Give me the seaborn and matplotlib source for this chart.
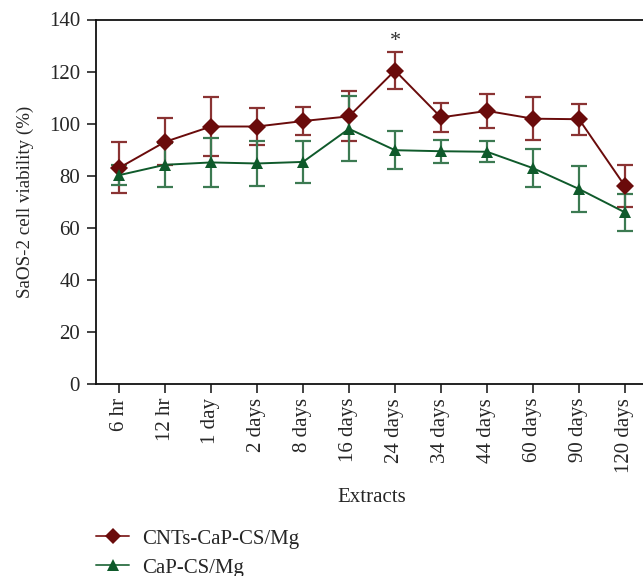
import matplotlib
matplotlib.use("Agg")
import matplotlib.pyplot as plt
import seaborn as sns
import pandas as pd
from matplotlib.lines import Line2D

categories = ["6 hr", "12 hr", "1 day", "2 days", "8 days", "16 days",
              "24 days", "34 days", "44 days", "60 days", "90 days", "120 days"]
cnts_mean = [83.0, 93.0, 98.9, 98.9, 101.0, 102.8, 120.4, 102.4, 104.9, 101.9, 101.7, 76.0]
cnts_err = [9.8, 9.0, 11.3, 7.1, 5.4, 9.6, 7.2, 5.5, 6.5, 8.2, 6.0, 8.2]
cap_mean = [80.2, 84.2, 85.1, 84.7, 85.3, 98.0, 89.8, 89.4, 89.2, 82.9, 74.9, 65.9]
cap_err = [3.8, 8.5, 9.4, 8.7, 8.2, 12.5, 7.4, 4.5, 4.0, 7.4, 8.7, 7.0]
series_names = ["CNTs-CaP-CS/Mg", "CaP-CS/Mg"]
yticks = [0, 20, 40, 60, 80, 100, 120, 140]

sns.set_style("ticks")
plt.rcParams["font.family"] = ["Liberation Serif", "DejaVu Serif"]

red = "#6a0b0b"
red_err = "#8a3333"
green = "#0f5a2b"
green_err = "#3c7a52"

df = pd.DataFrame({
    "Extracts": categories * 2,
    "x": list(range(len(categories))) * 2,
    "viability": cnts_mean + cap_mean,
    "err": cnts_err + cap_err,
    "series": [series_names[0]] * len(categories) + [series_names[1]] * len(categories),
})

fig = plt.figure(figsize=(6.43, 5.76), dpi=100)
ax = fig.add_axes([96 / 643, 1 - 384 / 576, 552 / 643, (384 - 19.5) / 576])

for name, ecol in [(series_names[0], red_err), (series_names[1], green_err)]:
    sub = df[df["series"] == name]
    ax.errorbar(sub["x"], sub["viability"], yerr=sub["err"], fmt="none",
                ecolor=ecol, elinewidth=1.6, capsize=5.5, capthick=1.6, zorder=2)

sns.lineplot(data=df, x="x", y="viability", hue="series", style="series",
             markers={series_names[0]: "D", series_names[1]: "^"},
             dashes=False, palette={series_names[0]: red, series_names[1]: green},
             markersize=9, markeredgewidth=0, linewidth=1.4, ax=ax, legend=False, zorder=3)

ax.text(6, 131.5, "*", ha="center", va="center", fontsize=16, color="#333333")

ax.set_xlim(-0.5, 11.5)
ax.set_ylim(0, 140)
ax.set_yticks(yticks)
ax.set_xticks(range(len(categories)))
ax.set_xticklabels(categories, rotation=90)
ax.tick_params(axis="both", labelsize=15, length=6.5, width=1.2, color="#222222", direction="out")
ax.tick_params(axis="y", pad=5)
for s in ax.spines.values():
    s.set_linewidth(1.3)
    s.set_color("#111111")
ax.set_xlabel("Extracts", fontsize=15, labelpad=11)
ax.set_ylabel("SaOS-2 cell viability (%)", fontsize=13.7, labelpad=11)

handles = [Line2D([], [], color=red_err, marker="D", markerfacecolor=red, markeredgewidth=0, markersize=8, linewidth=1.4),
           Line2D([], [], color=green_err, marker="^", markerfacecolor=green, markeredgewidth=0, markersize=8.5, linewidth=1.4)]
fig.legend(handles, series_names, loc="upper left", bbox_to_anchor=(96 / 643, 1 - 529 / 576),
           frameon=False, fontsize=15, handlelength=1.6, handletextpad=0.6, labelspacing=0.45,
           borderaxespad=0, borderpad=0)

fig.savefig("out.png", dpi=100)
